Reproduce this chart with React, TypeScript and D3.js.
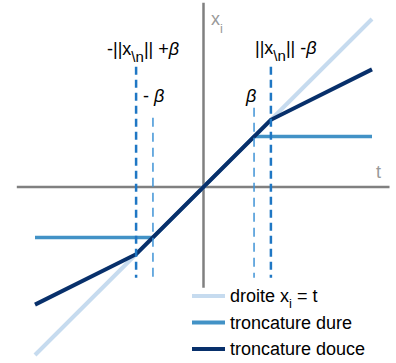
import React from 'react';
import * as d3 from 'd3';

// points of each curve: t -> x_i
const identityT = [-2.5, 2.5];
const identityX = [-2.5, 2.5];
const hardT = [-2.5, -0.75, 0.75, 2.5];
const hardX = [-0.75, -0.75, 0.75, 0.75];
const softT = [-2.5, -1, 1, 2.5];
const softX = [-1.75, -1, 1, 1.75];

// vertical dashed markers
const thickDashT = [-1, 1];
const thickDashTop = [1.79, 1.79];
const thinDashT = [-0.75, 0.75];
const thinDashTop = [1.03, 1.18];
const dashBottom = -1.35;

const axisT = [-2.77, 2.76];
const axisX = [-1.5, 2.74];

const legendLabels = ['droite', 'troncature dure', 'troncature douce'];
const colors = ['#c6dbef', '#4292c6', '#08306b'];

const W = 396;
const H = 363;

const App = () => {
  const x = d3.scaleLinear().domain([-2.5, 2.5]).range([35, 372]);
  const y = d3.scaleLinear().domain([-2.5, 2.5]).range([355, 19]);

  const line = d3.line<number>().x((d) => x(d[0])).y((d) => y(d[1]));
  const pts = (ts: number[], xs: number[]) => ts.map((t, i) => [t, xs[i]] as any);

  const font = 'Liberation Sans, Arial, Helvetica, sans-serif';
  const axisColor = '#808080';

  return (
    <svg width={W} height={H} style={{ position: 'absolute', left: 0, top: 0 }} fontFamily={font}>
      <rect width={W} height={H} fill="#fff" />
      {/* axes */}
      <line x1={x(axisT[0])} x2={x(axisT[1])} y1={y(0)} y2={y(0)} stroke={axisColor} strokeWidth={2.5} />
      <line x1={x(0)} x2={x(0)} y1={y(axisX[0])} y2={y(axisX[1])} stroke={axisColor} strokeWidth={2.5} />
      <text x={211} y={25} fontSize={18} fill="#999">x<tspan fontSize={13} dy={8}>i</tspan></text>
      <text x={376} y={178} fontSize={18} fill="#999">t</text>

      {/* curves */}
      <path d={line(pts(identityT, identityX))!} fill="none" stroke={colors[0]} strokeWidth={4} />
      <path d={line(pts(hardT, hardX))!} fill="none" stroke={colors[1]} strokeWidth={3.5} />
      <path d={line(pts(softT, softX))!} fill="none" stroke={colors[2]} strokeWidth={4} />

      {/* dashed markers */}
      {thickDashT.map((t, i) => (
        <line key={'k' + i} x1={x(t)} x2={x(t)} y1={y(thickDashTop[i])} y2={y(dashBottom)}
          stroke="#1f77c4" strokeWidth={2.5} strokeDasharray="8,5" />
      ))}
      {thinDashT.map((t, i) => (
        <line key={'n' + i} x1={x(t)} x2={x(t)} y1={y(thinDashTop[i])} y2={y(dashBottom)}
          stroke="#3f93d6" strokeWidth={1.5} strokeDasharray="9,6" />
      ))}

      {/* annotations */}
      <text x={107} y={55} fontSize={18} fill="#000">
        -||x<tspan fontSize={15} dy={7}>\n</tspan><tspan dy={-7}>|| +</tspan><tspan fontStyle="italic">β</tspan>
      </text>
      <text x={255} y={54} fontSize={18} fill="#000">
        ||x<tspan fontSize={15} dy={7}>\n</tspan><tspan dy={-7}>|| -</tspan><tspan fontStyle="italic">β</tspan>
      </text>
      <text x={143} y={102} fontSize={18} fill="#000">- <tspan fontStyle="italic">β</tspan></text>
      <text x={246} y={102} fontSize={18} fill="#000" fontStyle="italic">β</text>

      {/* legend */}
      {legendLabels.map((lab, i) => (
        <g key={lab} transform={`translate(192,${296 + i * 26.5})`}>
          <line x1={0} x2={33} y1={0} y2={0} stroke={colors[i]} strokeWidth={4} />
          <text x={38} y={6} fontSize={18} fill="#000">
            {lab}
            {i === 0 && (
              <>
                {' x'}<tspan fontSize={13} dy={6}>i</tspan><tspan dy={-6}> = t</tspan>
              </>
            )}
          </text>
        </g>
      ))}
    </svg>
  );
};

export default App;
